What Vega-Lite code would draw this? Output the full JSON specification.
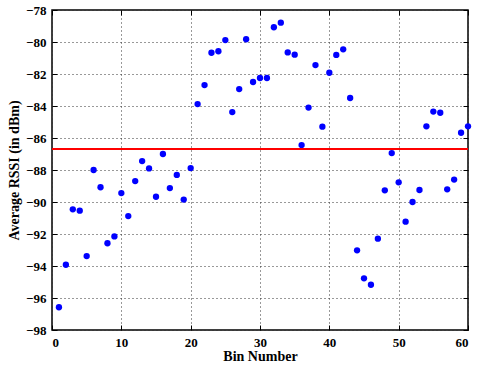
{
  "$schema": "https://vega.github.io/schema/vega-lite/v6.json",
  "width": 416,
  "height": 320,
  "autosize": "none",
  "padding": {"left": 52, "top": 10, "right": 9, "bottom": 37},
  "background": "white",
  "config": {
    "view": {"stroke": "black", "strokeWidth": 1.5},
    "axis": {
      "labelFont": "Liberation Serif",
      "labelFontWeight": "bold",
      "labelFontSize": 13,
      "labelColor": "black",
      "labelOverlap": false,
      "titleFont": "Liberation Serif",
      "titleFontWeight": "bold",
      "titleFontSize": 14,
      "titleColor": "black",
      "domain": false,
      "tickColor": "black",
      "tickSize": -5,
      "labelPadding": 11,
      "grid": true,
      "gridColor": "#333333",
      "gridDash": [1, 3],
      "gridWidth": 1
    }
  },
  "data": {
    "values": [
      {"bin": 1, "rssi": -96.58}, {"bin": 2, "rssi": -93.92}, {"bin": 3, "rssi": -90.46},
      {"bin": 4, "rssi": -90.54}, {"bin": 5, "rssi": -93.38}, {"bin": 6, "rssi": -88.0},
      {"bin": 7, "rssi": -89.08}, {"bin": 8, "rssi": -92.58}, {"bin": 9, "rssi": -92.15},
      {"bin": 10, "rssi": -89.44}, {"bin": 11, "rssi": -90.88}, {"bin": 12, "rssi": -88.69},
      {"bin": 13, "rssi": -87.44}, {"bin": 14, "rssi": -87.9}, {"bin": 15, "rssi": -89.67},
      {"bin": 16, "rssi": -87.0}, {"bin": 17, "rssi": -89.13}, {"bin": 18, "rssi": -88.31},
      {"bin": 19, "rssi": -89.85}, {"bin": 20, "rssi": -87.88}, {"bin": 21, "rssi": -83.88},
      {"bin": 22, "rssi": -82.69}, {"bin": 23, "rssi": -80.67}, {"bin": 24, "rssi": -80.58},
      {"bin": 25, "rssi": -79.88}, {"bin": 26, "rssi": -84.38}, {"bin": 27, "rssi": -82.94},
      {"bin": 28, "rssi": -79.83}, {"bin": 29, "rssi": -82.5}, {"bin": 30, "rssi": -82.25},
      {"bin": 31, "rssi": -82.25}, {"bin": 32, "rssi": -79.08}, {"bin": 33, "rssi": -78.79},
      {"bin": 34, "rssi": -80.65}, {"bin": 35, "rssi": -80.79}, {"bin": 36, "rssi": -86.44},
      {"bin": 37, "rssi": -84.1}, {"bin": 38, "rssi": -81.44}, {"bin": 39, "rssi": -85.29},
      {"bin": 40, "rssi": -81.92}, {"bin": 41, "rssi": -80.81}, {"bin": 42, "rssi": -80.46},
      {"bin": 43, "rssi": -83.5}, {"bin": 44, "rssi": -93.02}, {"bin": 45, "rssi": -94.77},
      {"bin": 46, "rssi": -95.17}, {"bin": 47, "rssi": -92.29}, {"bin": 48, "rssi": -89.27},
      {"bin": 49, "rssi": -86.94}, {"bin": 50, "rssi": -88.77}, {"bin": 51, "rssi": -91.23},
      {"bin": 52, "rssi": -90.0}, {"bin": 53, "rssi": -89.25}, {"bin": 54, "rssi": -85.27},
      {"bin": 55, "rssi": -84.35}, {"bin": 56, "rssi": -84.42}, {"bin": 57, "rssi": -89.21},
      {"bin": 58, "rssi": -88.6}, {"bin": 59, "rssi": -85.67}, {"bin": 60, "rssi": -85.27}
    ]
  },
  "resolve": {"axis": {"x": "independent", "y": "independent"}},
  "layer": [
    {
      "mark": {"type": "point", "filled": true, "size": 40, "color": "#0000ff", "opacity": 1},
      "encoding": {
        "x": {
          "field": "bin", "type": "quantitative",
          "scale": {"domain": [0, 60], "nice": false, "zero": false},
          "axis": {"values": [0, 10, 20, 30, 40, 50, 60], "title": "Bin Number", "titlePadding": 0, "labelPadding": 11}
        },
        "y": {
          "field": "rssi", "type": "quantitative",
          "scale": {"domain": [-98, -78], "nice": false, "zero": false},
          "axis": {"values": [-98, -96, -94, -92, -90, -88, -86, -84, -82, -80, -78], "format": "d", "title": "Average RSSI (in dBm)", "titlePadding": 4}
        }
      }
    },
    {
      "data": {"values": [{"mean": -86.69, "x0": 0, "x1": 60}]},
      "mark": {"type": "rule", "color": "#ff0000", "strokeWidth": 2},
      "encoding": {
        "y": {"field": "mean", "type": "quantitative",
          "axis": {"orient": "right", "values": [-98, -96, -94, -92, -90, -88, -86, -84, -82, -80, -78], "labels": false, "title": null, "grid": false}},
        "x": {"field": "x0", "type": "quantitative",
          "axis": {"orient": "top", "values": [0, 10, 20, 30, 40, 50, 60], "labels": false, "title": null, "grid": false}},
        "x2": {"field": "x1"}
      }
    }
  ]
}
